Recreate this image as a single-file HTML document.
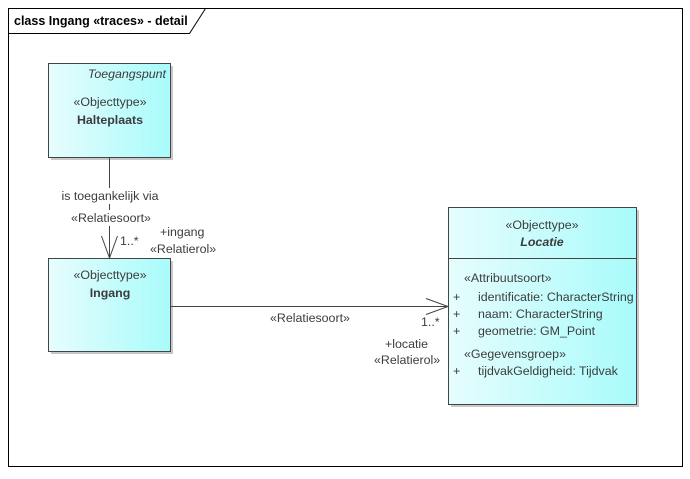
<!DOCTYPE html>
<html><head><style>
html,body{margin:0;padding:0;background:#fff}
svg text{font-family:"Liberation Sans",sans-serif;font-size:12.4px;fill:#3c3c3c}
</style></head><body>
<svg width="690" height="474" viewBox="0 0 690 474" xmlns="http://www.w3.org/2000/svg">
<defs>
<linearGradient id="g" x1="0" x2="1" y1="0" y2="0">
<stop offset="0" stop-color="#e6fdfd"/><stop offset="1" stop-color="#a9fbfb"/>
</linearGradient>
</defs>
<rect x="8.5" y="8.5" width="674" height="458" fill="#fff" stroke="#000"/>
<path d="M8.5 33.5 H189.5 L205.5 8.5" fill="none" stroke="#000"/>
<text x="14" y="25" style="font-size:12.5px;fill:#000;font-weight:bold">class Ingang «traces» - detail</text>

<!-- shadows -->
<rect x="51" y="66" width="122" height="94" fill="#c8c8c8"/>
<rect x="51" y="261" width="122" height="93" fill="#c8c8c8"/>
<rect x="451" y="210" width="188" height="197" fill="#c8c8c8"/>

<!-- Halteplaats -->
<rect x="48.5" y="63.5" width="122" height="94" fill="url(#g)" stroke="#444"/>
<text x="166" y="78" text-anchor="end" font-style="italic">Toegangspunt</text>
<text x="110" y="106" text-anchor="middle">«Objecttype»</text>
<text x="110" y="124" text-anchor="middle" font-weight="bold">Halteplaats</text>

<!-- Ingang -->
<rect x="48.5" y="258.5" width="122" height="93" fill="url(#g)" stroke="#444"/>
<text x="110" y="279" text-anchor="middle">«Objecttype»</text>
<text x="110" y="297" text-anchor="middle" font-weight="bold">Ingang</text>

<!-- Locatie -->
<rect x="448.5" y="207.5" width="188" height="197" fill="url(#g)" stroke="#444"/>
<line x1="448.5" y1="258.5" x2="636.5" y2="258.5" stroke="#444"/>
<text x="542" y="229" text-anchor="middle">«Objecttype»</text>
<text x="542" y="246" text-anchor="middle" font-weight="bold" font-style="italic">Locatie</text>
<text x="464" y="282">«Attribuutsoort»</text>
<text x="453" y="301">+</text><text x="478" y="301">identificatie: CharacterString</text>
<text x="453" y="318">+</text><text x="478" y="318">naam: CharacterString</text>
<text x="453" y="335">+</text><text x="478" y="335">geometrie: GM_Point</text>
<text x="464" y="358">«Gegevensgroep»</text>
<text x="453" y="375">+</text><text x="478" y="375">tijdvakGeldigheid: Tijdvak</text>

<!-- vertical connector -->
<line x1="109.5" y1="157.5" x2="109.5" y2="258" stroke="#444"/>
<rect x="55" y="188" width="110" height="16" fill="#fff"/>
<rect x="65" y="210" width="92" height="16" fill="#fff"/>
<text x="110" y="200" text-anchor="middle">is toegankelijk via</text>
<text x="111" y="222" text-anchor="middle">«Relatiesoort»</text>
<path d="M101.5 236 L109.5 258 L117.5 236" fill="none" stroke="#444"/>
<text x="120" y="245">1..*</text>
<text x="160" y="236">+ingang</text>
<text x="150" y="253">«Relatierol»</text>

<!-- horizontal connector -->
<line x1="170.5" y1="306.5" x2="448" y2="306.5" stroke="#444"/>
<path d="M426 298.5 L448 306.5 L426 314.5" fill="none" stroke="#444"/>
<text x="270" y="322">«Relatiesoort»</text>
<text x="421" y="326">1..*</text>
<text x="385" y="348">+locatie</text>
<text x="374" y="364">«Relatierol»</text>
</svg>
</body></html>
